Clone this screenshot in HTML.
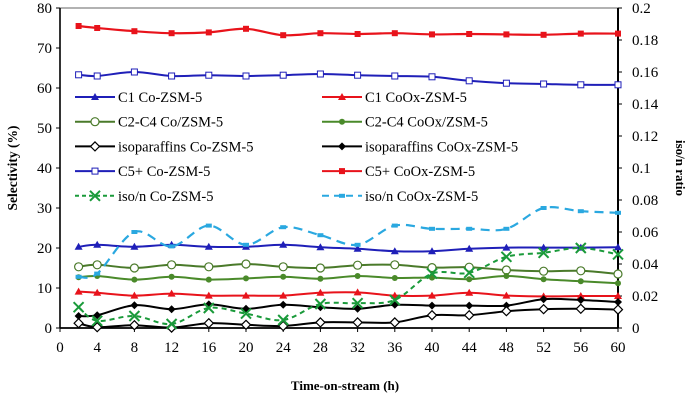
<!DOCTYPE html>
<html><head><meta charset="utf-8"><style>
body{margin:0;background:#fff;}
svg{display:block;font-family:"Liberation Serif",serif;}
</style></head><body>
<svg id="chart" width="685" height="401"></svg>
<script>
const times=[2,4,8,12,16,20,24,28,32,36,40,44,48,52,56,60];
const c5CoOx=[75.5,75,74.2,73.7,73.9,74.8,73.2,73.7,73.5,73.7,73.4,73.5,73.4,73.3,73.6,73.6];
const c5Co=[63.3,63,64,63,63.2,63,63.2,63.5,63.2,63,62.8,61.8,61.2,61,60.8,60.8];
const c1Co=[20.3,20.8,20.3,20.8,20.3,20.3,20.8,20.2,19.8,19.2,19.2,19.8,20.1,20.1,20.1,20.2];
const c24Co=[15.3,15.8,15,15.8,15.3,16,15.3,15,15.7,15.8,15.1,15.2,14.5,14.2,14.3,13.5];
const c24CoOx=[12.7,13,12.1,12.8,12.1,12.4,12.8,12.3,13,12.5,12.6,12.2,13,12.2,11.7,11.2];
const c1CoOx=[9.1,8.8,8.1,8.6,8.1,8.1,8.1,8.8,8.9,8.1,8.1,8.8,8.1,7.9,8.0,8.0];
const isoCoOx=[3,3.2,5.7,4.7,5.9,4.8,5.8,5.2,4.8,5.8,5.6,5.6,5.6,7.2,7.0,6.5];
const isoCo=[1.2,0.2,0.7,0.1,1.2,0.8,0.5,1.4,1.4,1.4,3.2,3.2,4.2,4.7,4.8,4.6];
const ratioCo=[0.013,0.0045,0.0075,0.0025,0.0125,0.009,0.005,0.015,0.0155,0.0175,0.034,0.0345,0.0445,0.047,0.05,0.046];
const ratioCoOx=[0.032,0.034,0.06,0.051,0.064,0.052,0.063,0.058,0.052,0.064,0.062,0.062,0.062,0.075,0.073,0.072];
const xTicks=[0,4,8,12,16,20,24,28,32,36,40,44,48,52,56,60];
const yTicks=[0,10,20,30,40,50,60,70,80];
const y2Ticks=[0,0.02,0.04,0.06,0.08,0.1,0.12,0.14,0.16,0.18,0.2];

const L=60,R=618,T=8,B=328;
const sx=v=>L+(v/60)*(R-L);
const sy=v=>B-(v/80)*(B-T);
const sy2=v=>B-(v/0.2)*(B-T);
const svg=document.getElementById('chart');
const NS='http://www.w3.org/2000/svg';
function mk(tag,attrs,parent){const e=document.createElementNS(NS,tag);for(const k in attrs)e.setAttribute(k,attrs[k]);(parent||svg).appendChild(e);return e;}

const ax=mk('g',{});


mk('line',{x1:L,x2:R,y1:T,y2:T,stroke:'#333','stroke-width':0.8},ax);
mk('line',{x1:L,x2:L,y1:T,y2:B,stroke:'#000','stroke-width':1.6},ax);
mk('line',{x1:R,x2:R,y1:T,y2:B,stroke:'#000','stroke-width':2},ax);
mk('line',{x1:L,x2:R,y1:B,y2:B,stroke:'#000','stroke-width':1.8},ax);
xTicks.forEach(t=>{
  mk('line',{x1:sx(t),x2:sx(t),y1:B,y2:B+4,stroke:'#000'},ax);
  const tx=mk('text',{x:sx(t),y:B+24,'text-anchor':'middle','font-size':15},ax);
  tx.textContent=t;
  
  
});
yTicks.forEach(t=>{
  mk('line',{x1:L-4,x2:L,y1:sy(t),y2:sy(t),stroke:'#000'},ax);
  const tx=mk('text',{x:L-8,y:sy(t)+5,'text-anchor':'end','font-size':15},ax);
  tx.textContent=t;
  
  
});
y2Ticks.forEach(t=>{
  mk('line',{x1:R,x2:R+4,y1:sy2(t),y2:sy2(t),stroke:'#000'},ax);
  const tx=mk('text',{x:R+14,y:sy2(t)+5,'text-anchor':'start','font-size':15},ax);
  tx.textContent=String(t);
  
  
});
let t1=mk('text',{x:345,y:390,'text-anchor':'middle','font-size':13,'font-weight':'bold'});
t1.textContent='Time-on-stream (h)';


let t2=mk('text',{x:0,y:0,'text-anchor':'middle','font-size':13.5,'font-weight':'bold',transform:'translate(17,168) rotate(-90)'});
t2.textContent='Selectivity (%)';


let t3=mk('text',{x:0,y:0,'text-anchor':'middle','font-size':13,'font-weight':'bold',transform:'translate(676,168) rotate(90)'});
t3.textContent='iso/n ratio';



function marker(g,type,x,y,c){
  if(type==='tri')mk('path',{d:`M${x},${y-4}L${x+4},${y+3}L${x-4},${y+3}Z`,fill:c},g);
  else if(type==='sq')mk('rect',{x:x-3,y:y-3,width:6,height:6,fill:c},g);
  else if(type==='osq')mk('rect',{x:x-3,y:y-3,width:6,height:6,fill:'#fff',stroke:c},g);
  else if(type==='oc')mk('circle',{cx:x,cy:y,r:4,fill:'#fff',stroke:c,'stroke-width':1.2},g);
  else if(type==='fc')mk('circle',{cx:x,cy:y,r:3,fill:c},g);
  else if(type==='od')mk('path',{d:`M${x},${y-4.5}L${x+4.5},${y}L${x},${y+4.5}L${x-4.5},${y}Z`,fill:'#fff',stroke:c,'stroke-width':1.2},g);
  else if(type==='fd')mk('path',{d:`M${x},${y-4}L${x+4},${y}L${x},${y+4}L${x-4},${y}Z`,fill:c},g);
  else if(type==='x'){mk('path',{d:`M${x-5},${y-5}L${x+5},${y+5}M${x+5},${y-5}L${x-5},${y+5}`,stroke:c,'stroke-width':2},g);}
  else if(type==='dash')mk('rect',{x:x-3,y:y-2,width:6,height:4,fill:c},g);
}
const series=[
 {name:'c5-cooxzsm5',vals:c5CoOx,c:'#e8131b',m:'sq',y:sy,w:2.2},
 {name:'c5-cozsm5',vals:c5Co,c:'#1f1fb8',m:'osq',y:sy,w:2},
 {name:'c1-cozsm5',vals:c1Co,c:'#1f1fb8',m:'tri',y:sy,w:2},
 {name:'c2c4-cozsm5',vals:c24Co,c:'#4a7a2a',m:'oc',y:sy,w:2},
 {name:'c2c4-cooxzsm5',vals:c24CoOx,c:'#4a8a2a',m:'fc',y:sy,w:2},
 {name:'c1-cooxzsm5',vals:c1CoOx,c:'#e8131b',m:'tri',y:sy,w:2},
 {name:'iso-cooxzsm5',vals:isoCoOx,c:'#000',m:'fd',y:sy,w:2},
 {name:'iso-cozsm5',vals:isoCo,c:'#000',m:'od',y:sy,w:2},
 {name:'ratio-cozsm5',vals:ratioCo,c:'#1a9a3a',m:'x',y:sy2,w:2,dash:'5,4'},
 {name:'ratio-cooxzsm5',vals:ratioCoOx,c:'#2aa8e0',m:'dash',y:sy2,w:2.2,dash:'9,6'}
];
series.forEach(s=>{
  const g=mk('g',{});
  
  
  const pts=times.map((t,i)=>[sx(t),s.y(s.vals[i])]);
  let d='M'+pts[0][0]+','+pts[0][1];
  for(let i=0;i<pts.length-1;i++){
    const p0=pts[Math.max(0,i-1)],p1=pts[i],p2=pts[i+1],p3=pts[Math.min(pts.length-1,i+2)];
    const c1=[p1[0]+(p2[0]-p0[0])/6,p1[1]+(p2[1]-p0[1])/6],c2=[p2[0]-(p3[0]-p1[0])/6,p2[1]-(p3[1]-p1[1])/6];
    d+=`C${c1[0]},${c1[1]} ${c2[0]},${c2[1]} ${p2[0]},${p2[1]}`;
  }
  const a={d:d,fill:'none',stroke:s.c,'stroke-width':s.w};
  if(s.dash)a['stroke-dasharray']=s.dash;
  mk('path',a,g);
  pts.forEach(p=>marker(g,s.m,p[0],p[1],s.c));
});

const legend=[
 ['C1 Co-ZSM-5','#1f1fb8','tri',null,0,0],['C1 CoOx-ZSM-5','#e8131b','tri',null,1,0],
 ['C2-C4 Co/ZSM-5','#4a7a2a','oc',null,0,1],['C2-C4 CoOx/ZSM-5','#4a8a2a','fc',null,1,1],
 ['isoparaffins Co-ZSM-5','#000','od',null,0,2],['isoparaffins CoOx-ZSM-5','#000','fd',null,1,2],
 ['C5+ Co-ZSM-5','#1f1fb8','osq',null,0,3],['C5+ CoOx-ZSM-5','#e8131b','sq',null,1,3],
 ['iso/n Co-ZSM-5','#1a9a3a','x','4,3',0,4],['iso/n CoOx-ZSM-5','#2aa8e0','dash','7,5',1,4]
];
const lg=mk('g',{});


legend.forEach(e=>{
  const g=mk('g',{},lg);
  
  
  const x0=e[4]?322:75,y=97+e[5]*24.7;
  const a={x1:x0,x2:x0+40,y1:y,y2:y,stroke:e[1],'stroke-width':2};
  if(e[3])a['stroke-dasharray']=e[3];
  mk('line',a,g);
  marker(g,e[2],x0+20,y,e[1]);
  const tx=mk('text',{x:x0+43,y:y+5,'font-size':14.5},g);
  tx.textContent=e[0];
});
</script>
</body></html>
